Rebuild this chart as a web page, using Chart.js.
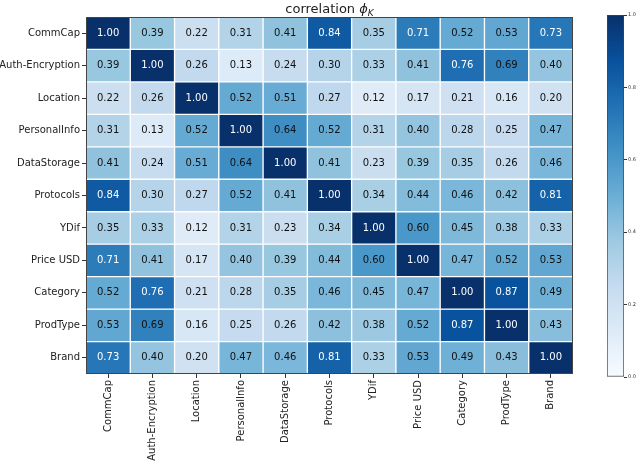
<!DOCTYPE html>
<html>
<head>
<meta charset="utf-8">
<script src="https://cdn.jsdelivr.net/npm/chart.js@4/dist/chart.umd.min.js"></script>
<style>
  html, body { margin: 0; padding: 0; background: #fff; }
  #wrap { position: relative; width: 640px; height: 461px; }
  #main { position: absolute; left: 0; top: 0; width: 640px; height: 461px; }
  #cbar { position: absolute; left: 590px; top: 0; width: 50px; height: 461px; }
</style>
</head>
<body>
<div id="wrap">
  <div id="main"><canvas id="heatChart"></canvas></div>
  <div id="cbar"><canvas id="barChart"></canvas></div>
</div>
<script>
// variables (same order for rows and columns)
var labels = ['CommCap', 'Auth-Encryption', 'Location', 'PersonalInfo', 'DataStorage',
  'Protocols', 'YDif', 'Price USD', 'Category', 'ProdType', 'Brand'];

// phi_K correlation, one row per variable
var rowCommCap    = [1.00, 0.39, 0.22, 0.31, 0.41, 0.84, 0.35, 0.71, 0.52, 0.53, 0.73];
var rowAuth       = [0.39, 1.00, 0.26, 0.13, 0.24, 0.30, 0.33, 0.41, 0.76, 0.69, 0.40];
var rowLocation   = [0.22, 0.26, 1.00, 0.52, 0.51, 0.27, 0.12, 0.17, 0.21, 0.16, 0.20];
var rowPersonal   = [0.31, 0.13, 0.52, 1.00, 0.64, 0.52, 0.31, 0.40, 0.28, 0.25, 0.47];
var rowStorage    = [0.41, 0.24, 0.51, 0.64, 1.00, 0.41, 0.23, 0.39, 0.35, 0.26, 0.46];
var rowProtocols  = [0.84, 0.30, 0.27, 0.52, 0.41, 1.00, 0.34, 0.44, 0.46, 0.42, 0.81];
var rowYDif       = [0.35, 0.33, 0.12, 0.31, 0.23, 0.34, 1.00, 0.60, 0.45, 0.38, 0.33];
var rowPrice      = [0.71, 0.41, 0.17, 0.40, 0.39, 0.44, 0.60, 1.00, 0.47, 0.52, 0.53];
var rowCategory   = [0.52, 0.76, 0.21, 0.28, 0.35, 0.46, 0.45, 0.47, 1.00, 0.87, 0.49];
var rowProdType   = [0.53, 0.69, 0.16, 0.25, 0.26, 0.42, 0.38, 0.52, 0.87, 1.00, 0.43];
var rowBrand      = [0.73, 0.40, 0.20, 0.47, 0.46, 0.81, 0.33, 0.53, 0.49, 0.43, 1.00];

var rows = [rowCommCap, rowAuth, rowLocation, rowPersonal, rowStorage, rowProtocols,
  rowYDif, rowPrice, rowCategory, rowProdType, rowBrand];

var colorbarRange = [0, 1];
var colorbarTicks = [0, 0.2, 0.4, 0.6, 0.8, 1.0];

// matplotlib "Blues"
var blues = ['#f7fbff', '#deebf7', '#c6dbef', '#9ecae1', '#6baed6',
  '#4292c6', '#2171b5', '#08519c', '#08306b'];

function hexRgb(h) {
  return [parseInt(h.substr(1, 2), 16), parseInt(h.substr(3, 2), 16), parseInt(h.substr(5, 2), 16)];
}
function bluesColor(v) {
  v = Math.max(0, Math.min(1, v));
  var pos = v * (blues.length - 1);
  var i = Math.min(Math.floor(pos), blues.length - 2);
  var t = pos - i;
  var a = hexRgb(blues[i]), b = hexRgb(blues[i + 1]);
  var c = a.map(function (x, k) { return Math.round(x + (b[k] - x) * t); });
  return 'rgb(' + c.join(',') + ')';
}

var font = 'DejaVu Sans';

// each row is one stacked dataset of height 1
var datasets = rows.map(function (r, i) {
  return {
    label: labels[i],
    data: r.map(function () { return 1; }),
    values: r,
    backgroundColor: r.map(bluesColor),
    borderColor: '#ffffff',
    borderWidth: 1,
    borderSkipped: false,
    barPercentage: 1,
    categoryPercentage: 1
  };
});

var cellText = {
  id: 'cellText',
  afterDatasetsDraw: function (chart) {
    var c = chart.ctx;
    c.save();
    c.font = '10px "' + font + '"';
    c.textAlign = 'center';
    c.textBaseline = 'middle';
    chart.data.datasets.forEach(function (ds, i) {
      chart.getDatasetMeta(i).data.forEach(function (el, j) {
        var v = ds.values[j];
        var p = el.getCenterPoint();
        c.fillStyle = v > 0.7 ? '#ffffff' : '#111111';
        c.fillText(v.toFixed(2), p.x, p.y);
      });
    });
    // frame
    var a = chart.chartArea;
    c.strokeStyle = '#444';
    c.lineWidth = 1;
    c.strokeRect(a.left + 0.5, a.top + 0.5, a.width - 1, a.height - 1);
    c.restore();
  }
};

var phiTitle = {
  id: 'phiTitle',
  afterDraw: function (chart) {
    var c = chart.ctx;
    var a = chart.chartArea;
    var base = 'correlation ';
    c.save();
    c.fillStyle = '#222';
    c.textBaseline = 'alphabetic';
    c.font = '13px "' + font + '"';
    var w1 = c.measureText(base).width;
    c.font = 'italic 13px "' + font + '"';
    var w2 = c.measureText('\u03d5').width;
    c.font = 'italic 9px "' + font + '"';
    var w3 = c.measureText('K').width;
    var x = (a.left + a.right) / 2 - (w1 + w2 + w3) / 2;
    var y = 13;
    c.textAlign = 'left';
    c.font = '13px "' + font + '"';
    c.fillText(base, x, y);
    c.font = 'italic 13px "' + font + '"';
    c.fillText('\u03d5', x + w1, y);
    c.font = 'italic 9px "' + font + '"';
    c.fillText('K', x + w1 + w2, y + 3);
    c.restore();
  }
};

var hctx = document.getElementById('heatChart').getContext('2d');
var heatChart = new Chart(hctx, {
  type: 'bar',
  data: { labels: labels, datasets: datasets },
  plugins: [cellText, phiTitle],
  options: {
    responsive: true,
    maintainAspectRatio: false,
    animation: false,
    layout: { padding: { top: 17, right: 67, left: 0, bottom: 0 } },
    plugins: {
      legend: { display: false },
      tooltip: { enabled: false }
    },
    scales: {
      x: {
        stacked: true,
        grid: { drawOnChartArea: false, offset: false, tickLength: 4, color: '#333' },
        border: { display: false },
        ticks: {
          minRotation: 90, maxRotation: 90, autoSkip: false,
          color: '#222', padding: 2,
          font: { family: font, size: 10 }
        },
        afterFit: function (scale) { scale.height = 87; }
      },
      y: {
        type: 'linear',
        stacked: true,
        reverse: true,
        min: 0,
        max: labels.length,
        grid: { drawOnChartArea: false, tickLength: 4, color: '#333' },
        border: { display: false },
        afterBuildTicks: function (scale) {
          scale.ticks = labels.map(function (l, i) { return { value: i + 0.5 }; });
        },
        ticks: {
          color: '#222', padding: 2,
          font: { family: font, size: 10 },
          callback: function (v) { return labels[Math.floor(v)]; }
        },
        afterFit: function (scale) { scale.width = 86; }
      }
    }
  }
});

// colour bar
var bctx = document.getElementById('barChart').getContext('2d');
var barChart = new Chart(bctx, {
  type: 'bar',
  data: {
    labels: [''],
    datasets: [{
      data: [colorbarRange],
      backgroundColor: function (context) {
        var a = context.chart.chartArea;
        if (!a) return blues[4];
        var g = context.chart.ctx.createLinearGradient(0, a.bottom, 0, a.top);
        blues.forEach(function (col, i) { g.addColorStop(i / (blues.length - 1), col); });
        return g;
      },
      borderColor: '#444',
      borderWidth: 1,
      borderSkipped: false,
      barPercentage: 1,
      categoryPercentage: 1
    }]
  },
  options: {
    responsive: true,
    maintainAspectRatio: false,
    animation: false,
    layout: { padding: { top: 15, bottom: 84, left: 17, right: 0 } },
    plugins: { legend: { display: false }, tooltip: { enabled: false } },
    scales: {
      x: { display: false },
      y: {
        position: 'right',
        min: 0,
        max: 1,
        grid: { drawOnChartArea: false, tickLength: 3, color: '#333' },
        border: { display: false },
        afterBuildTicks: function (scale) {
          scale.ticks = colorbarTicks.map(function (v) { return { value: v }; });
        },
        ticks: {
          color: '#333', padding: 1,
          font: { family: font, size: 5 },
          callback: function (v) { return v.toFixed(1); }
        },
        afterFit: function (scale) { scale.width = 16; }
      }
    }
  }
});
</script>
</body>
</html>
